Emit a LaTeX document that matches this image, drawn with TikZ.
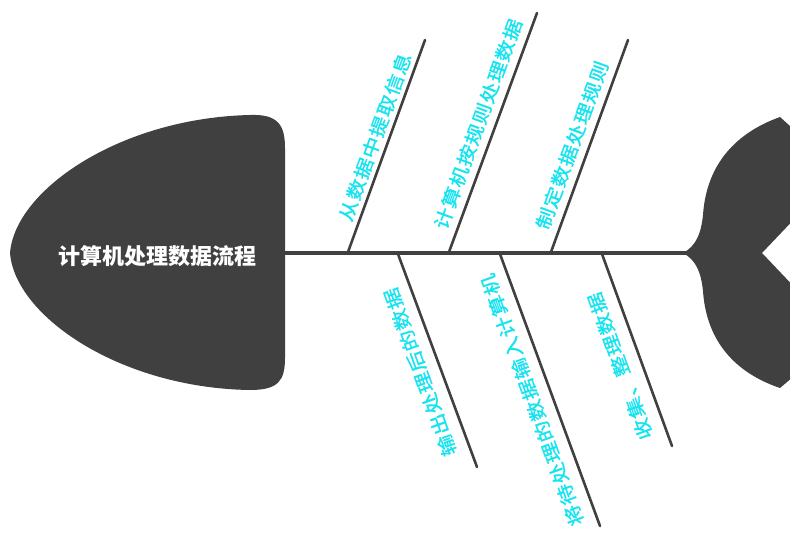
\documentclass[tikz,border=0pt]{standalone}
\usepackage{fontspec}
\usepackage{graphicx}
\newfontfamily\cjk{Noto Sans CJK SC}
\newfontfamily\cjklab{Noto Sans CJK SC}[LetterSpace=5,FakeBold=1.2]
\definecolor{fishgray}{RGB}{64,64,64}
\definecolor{labcyan}{RGB}{20,228,240}
\tikzset{
  fishbody/.style={fill=fishgray,draw=none},
  spineline/.style={draw=fishgray,line width=3.5pt},
  boneline/.style={draw=fishgray,line width=2.6pt,line cap=round},
  uplab/.style={text=labcyan,font=\cjklab\fontsize{18}{18}\selectfont,rotate=70,inner sep=0pt},
  lowlab/.style={text=labcyan,font=\cjklab\fontsize{18}{18}\selectfont,rotate=110,inner sep=0pt},
  titlelab/.style={text=white,font=\cjk\bfseries\fontsize{22}{22}\selectfont,inner sep=0pt}
}
\newcommand{\stretchtxt}[1]{\scalebox{1.18}[1]{#1}}
\begin{document}
\begin{tikzpicture}[x=1pt,y=-1pt]
\clip (0,0) rectangle (790,533);
\fill[white] (0,0) rectangle (790,533);
% head
\path[fishbody] (10,253) .. controls (15,190) and (120,118) .. (250,115)
  .. controls (278,114) and (285,125) .. (285,148) -- (285,358)
  .. controls (285,381) and (278,390) .. (250,390)
  .. controls (120,388) and (15,316) .. (10,253) -- cycle;
% tail
\path[fishbody] (683,253) .. controls (696,246) and (701,234) .. (703,215)
  .. controls (706,170) and (730,135) .. (780,117)
  -- (800,135) -- (800,213) -- (762,253) -- (800,293) -- (800,371) -- (780,388)
  .. controls (730,371) and (706,336) .. (703,291)
  .. controls (701,272) and (696,260) .. (683,253) -- cycle;
% coordinates
\coordinate (sL) at (284,253);
\coordinate (sR) at (688,253);
\coordinate (b1s) at (348,252); \coordinate (b1e) at (425,40);
\coordinate (b2s) at (449,252); \coordinate (b2e) at (537,13);
\coordinate (b3s) at (551,252); \coordinate (b3e) at (628,40);
\coordinate (b4s) at (398,254); \coordinate (b4e) at (477,467);
\coordinate (b5s) at (500,254); \coordinate (b5e) at (600,526);
\coordinate (b6s) at (602,254); \coordinate (b6e) at (672,446);
\draw[spineline] (sL) -- (sR);
\draw[boneline] (b1s) -- (b1e);
\draw[boneline] (b2s) -- (b2e);
\draw[boneline] (b3s) -- (b3e);
\draw[boneline] (b4s) -- (b4e);
\draw[boneline] (b5s) -- (b5e);
\draw[boneline] (b6s) -- (b6e);
% labels
\node[titlelab] (title) at (157,256) {计算机处理数据流程};
\node[uplab] (l1) at (375,137) {\stretchtxt{从数据中提取信息}};
\node[uplab] (l2) at (478,124) {\stretchtxt{计算机按规则处理数据}};
\node[uplab] (l3) at (572,145) {\stretchtxt{制定数据处理规则}};
\node[lowlab] (l4) at (420,372) {\stretchtxt{输出处理后的数据}};
\node[lowlab] (l5) at (532,400) {\stretchtxt{将待处理的数据输入计算机}};
\node[lowlab] (l6) at (620,366) {\stretchtxt{收集、整理数据}};
\end{tikzpicture}
\end{document}
